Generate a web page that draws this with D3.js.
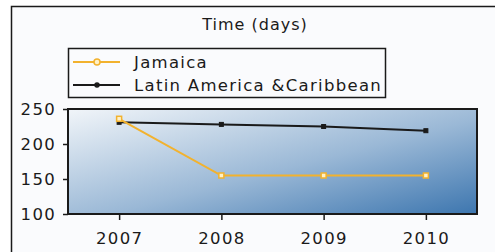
<!DOCTYPE html>
<html>
<head>
<meta charset="utf-8">
<script src="https://cdn.jsdelivr.net/npm/d3@7"></script>
<style>
 html, body { margin: 0; padding: 0; background: #ffffff; }
 svg { display: block; }
 text { font-family: "DejaVu Sans", Verdana, sans-serif; fill: #1a1a1a; letter-spacing: 1.3px; }
</style>
</head>
<body>
<svg id="chart" width="495" height="252"></svg>
<script>
"use strict"

// data
var years = ["2007", "2008", "2009", "2010"];
var jamaica = [236, 155, 155, 155];
var latinAmerica = [231, 228, 225, 219];
var yTicks = [100, 150, 200, 250];
var seriesNames = ["Jamaica", "Latin America &Caribbean"];
var seriesColors = ["#f2b22e", "#1a1a1a"];

var svg = d3.select("#chart");

var plot = {left: 68, right: 477, top: 109, bottom: 214};

var x = d3.scalePoint()
  .domain(years)
  .range([plot.left, plot.right])
  .padding(0.5);

var y = d3.scaleLinear()
  .domain([100, 250])
  .range([plot.bottom, plot.top]);

// outer frame
svg.append("rect")
  .attr("x", 11.5)
  .attr("y", 6.5)
  .attr("width", 520)
  .attr("height", 260)
  .attr("fill", "#fafbfd")
  .attr("stroke", "#1a1a1a")
  .attr("stroke-width", 1.5);

// title
svg.append("text")
  .attr("x", 255)
  .attr("y", 30)
  .attr("text-anchor", "middle")
  .style("font-size", "16px")
  .style("letter-spacing", "1px")
  .text("Time (days)");

// plot background gradient
var defs = svg.append("defs");
var grad = defs.append("linearGradient")
  .attr("id", "plotGrad")
  .attr("x1", 0).attr("y1", 0)
  .attr("x2", 1).attr("y2", 1);
grad.append("stop").attr("offset", "0%").attr("stop-color", "#f1f5f9");
grad.append("stop").attr("offset", "55%").attr("stop-color", "#9ab8d6");
grad.append("stop").attr("offset", "100%").attr("stop-color", "#3d76af");

svg.append("rect")
  .attr("x", plot.left)
  .attr("y", plot.top)
  .attr("width", plot.right - plot.left)
  .attr("height", plot.bottom - plot.top)
  .attr("fill", "url(#plotGrad)")
  .attr("stroke", "#1a1a1a")
  .attr("stroke-width", 2);

// axes
var yAxis = svg.append("g")
  .attr("transform", "translate(" + plot.left + ",0)")
  .call(d3.axisLeft(y).tickValues(yTicks).tickSize(5).tickPadding(7));

var xAxis = svg.append("g")
  .attr("transform", "translate(0," + plot.bottom + ")")
  .call(d3.axisBottom(x).tickSize(6).tickPadding(12));

[yAxis, xAxis].forEach(function(axis){
  axis.select(".domain").remove();
  axis.selectAll("line").attr("stroke", "#1a1a1a").attr("stroke-width", 1.5);
  axis.selectAll("text")
    .style("font-size", "16.5px")
    .attr("fill", "#1a1a1a")
    .style("font-family", "'DejaVu Sans', Verdana, sans-serif");
});

// lines
var line = d3.line()
  .x(function(d, i){ return x(years[i]); })
  .y(function(d){ return y(d); });

var series = [latinAmerica, jamaica];
var seriesIdx = [1, 0];

series.forEach(function(values, k){
  var idx = seriesIdx[k];
  var s = idx === 0 ? 5 : 4;
  svg.append("path")
    .datum(values)
    .attr("d", line)
    .attr("fill", "none")
    .attr("stroke", seriesColors[idx])
    .attr("stroke-width", 2);

  svg.selectAll(".pt" + idx)
    .data(values)
    .enter()
    .append("rect")
    .attr("class", "pt" + idx)
    .attr("x", function(d, i){ return x(years[i]) - s / 2; })
    .attr("y", function(d){ return y(d) - s / 2; })
    .attr("width", s)
    .attr("height", s)
    .attr("fill", idx === 0 ? "#fff1c8" : "#1a1a1a")
    .attr("stroke", seriesColors[idx])
    .attr("stroke-width", idx === 0 ? 1.5 : 1);
});

// legend
var legend = svg.append("g");
legend.append("rect")
  .attr("x", 68.5)
  .attr("y", 48.5)
  .attr("width", 317)
  .attr("height", 49)
  .attr("fill", "#fafbfd")
  .attr("stroke", "#1a1a1a")
  .attr("stroke-width", 1.5);

var rows = legend.selectAll(".legend_row")
  .data(seriesNames)
  .enter()
  .append("g")
  .attr("class", "legend_row")
  .attr("transform", function(d, i){ return "translate(0," + (62 + i * 23) + ")"; });

rows.append("line")
  .attr("x1", 73).attr("x2", 120)
  .attr("y1", 0).attr("y2", 0)
  .attr("stroke", function(d, i){ return seriesColors[i]; })
  .attr("stroke-width", 2);

rows.append("circle")
  .attr("cx", 97)
  .attr("cy", 0)
  .attr("r", function(d, i){ return i === 0 ? 3 : 2; })
  .attr("fill", function(d, i){ return i === 0 ? "#fff1c8" : "#1a1a1a"; })
  .attr("stroke", function(d, i){ return seriesColors[i]; })
  .attr("stroke-width", 1.5);

rows.append("text")
  .attr("x", 134)
  .attr("y", 6)
  .style("font-size", "16.5px")
  .text(function(d){ return d; });
</script>
</body>
</html>
